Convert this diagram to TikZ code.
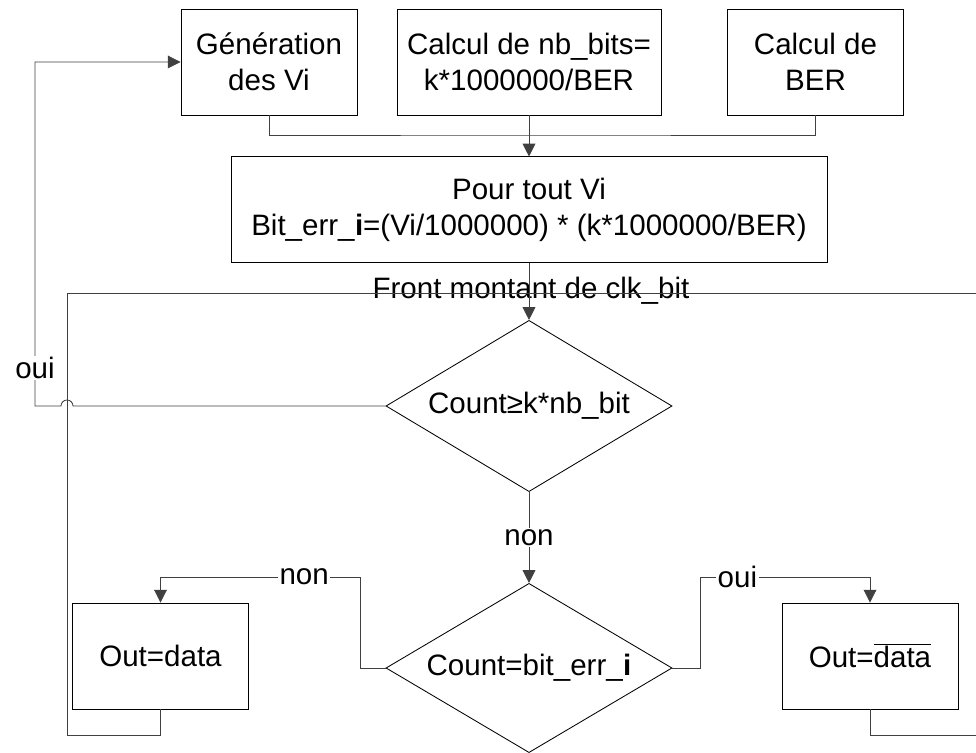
\documentclass[tikz,border=0pt]{standalone}
\usepackage{fontspec}
\setmainfont{Liberation Sans}
\usetikzlibrary{calc,shapes.geometric,arrows.meta}

\begin{document}
\begin{tikzpicture}[x=0.025cm,y=-0.025cm,
    every node/.style={font=\fontsize{21}{25.5}\selectfont},
    box/.style={draw,line width=0.6pt,align=center,inner sep=0pt},
    decision/.style={draw,diamond,aspect=1.66,line width=0.6pt,inner sep=0pt,
        minimum width=7.15cm,minimum height=4.28cm},
    link/.style={line width=0.6pt,black!75,-{Triangle[length=0.32cm,width=0.32cm]}},
    wire/.style={line width=0.6pt,black!75},
    lbl/.style={fill=white,inner sep=1pt,text=black}]
            \useasboundingbox (0,0) rectangle (976,753);

            % top row
            \node[box,minimum width=4.4cm,minimum height=2.65cm] (gen) at (269,62) {Génération\\des Vi};
            \node[box,minimum width=6.6cm,minimum height=2.65cm] (nbb) at (529,62) {Calcul de nb\_bits=\\k*1000000/BER};
            \node[box,minimum width=4.38cm,minimum height=2.65cm] (ber) at (815.5,62) {Calcul de\\BER};
            \node[box,minimum width=14.9cm,minimum height=2.63cm] (pour) at (529,209.5) {Pour tout Vi\\Bit\_err\_\textbf{i}=(Vi/1000000) * (k*1000000/BER)};

            % decisions and outputs
            \node[decision] (cmp) at (529,406) {Count≥k*nb\_bit};
            \node[decision,minimum height=4.23cm] (eq) at (529,668) {Count=bit\_err\_\textbf{i}};
            \node[box,minimum width=4.38cm,minimum height=2.65cm] (outd) at (160.5,656) {Out=data};
            \node[box,minimum width=4.4cm,minimum height=2.65cm] (outn) at (870,656) {Out=$\overline{\mbox{data}}$};
            \node[anchor=base] (front) at (531,299) {Front montant de clk\_bit};

            \coordinate (merge) at (529,135);
            \coordinate (fl) at (67,293);
            \coordinate (fr) at (976,293);
            \coordinate (ll) at (67,735);
            \coordinate (rl) at (976,735);
            \coordinate (jump) at (67,406);
            \coordinate (ouil) at (35,406);
            \coordinate (nonl) at (360,577);
            \coordinate (ouir) at (700,577);

            \draw[wire] (gen.south) |- (merge) -| (ber.south);
            \draw[link] (nbb.south) -- (nbb.south |- pour.north);
            \draw[link] (pour.south) -- (cmp.north);
            \draw[wire] (outd.south) |- (ll) -- (fl) -- (fr);
            \draw[wire] (outn.south) |- (rl);

            % loop back to the generation
            \draw[link] (cmp.west) -- ($ (jump) + (6,0) $) arc[start angle=0,end angle=180,radius=0.15cm]
                -- (ouil) -- node[lbl,pos=0.11] {oui} (ouil |- gen.west) -- (gen.west);

            \draw[link] (cmp.south) -- node[lbl] {non} (eq.north);
            \draw[link] (eq.west) -| (nonl) -- node[lbl,pos=0.28] {non} (nonl -| outd.north) -- (outd.north);
            \draw[link] (eq.east) -| (ouir) -- node[lbl,pos=0.22] {oui} (ouir -| outn.north) -- (outn.north);
        \end{tikzpicture}
\end{document}
